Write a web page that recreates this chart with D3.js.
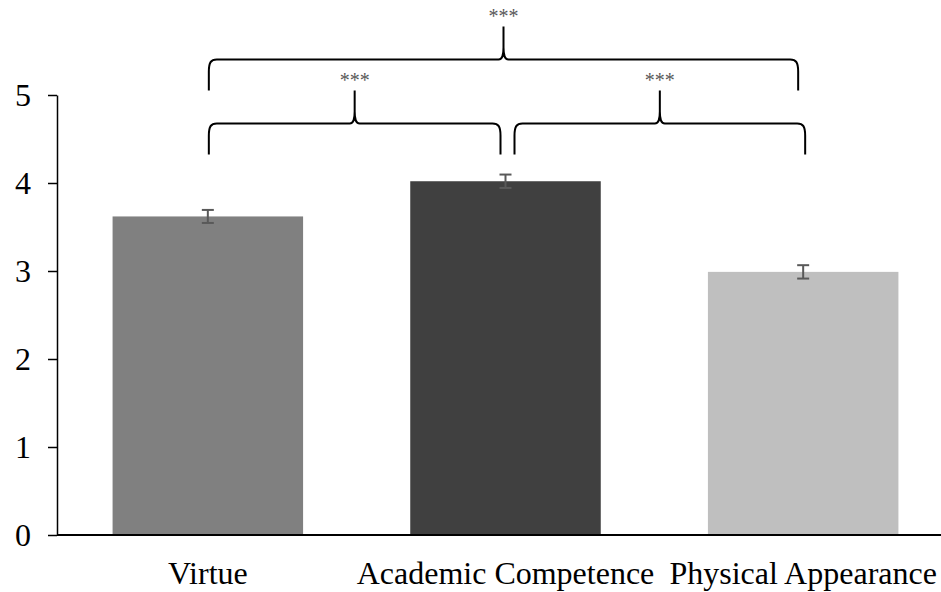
<!DOCTYPE html>
<html>
<head>
<meta charset="utf-8">
<script src="https://cdn.jsdelivr.net/npm/d3@7"></script>
<style>
  html, body { margin: 0; padding: 0; background: #fff; }
  svg { display: block; }
</style>
</head>
<body>
<svg id="chart" width="941" height="592"></svg>
<script>
// Mean ratings per domain, with standard errors
const categories = ["Virtue", "Academic Competence", "Physical Appearance"];
const means = [3.62, 4.02, 2.99];
const errors = [0.074, 0.076, 0.076];
const barColors = ["#808080", "#404040", "#bfbfbf"];
const yTicks = [0, 1, 2, 3, 4, 5];

// Pairwise comparisons (category indices), bracket level and significance label
const comparisons = [
  { from: 0, to: 1, level: 0, label: "***" },
  { from: 1, to: 2, level: 0, label: "***" },
  { from: 0, to: 2, level: 1, label: "***" }
];

const svg = d3.select("#chart");
const W = 941;
const axisX = 57;
const serif = "'Liberation Serif', 'Times New Roman', serif";

const x = d3.scaleBand()
  .domain(categories)
  .range([59, 952])
  .paddingInner(0.36)
  .paddingOuter(0.18);

const y = d3.scaleLinear().domain([0, 5]).range([535, 95]);

// Bars
svg.append("g").selectAll("rect")
  .data(categories)
  .join("rect")
  .attr("x", d => x(d))
  .attr("y", (d, i) => y(means[i]))
  .attr("width", x.bandwidth())
  .attr("height", (d, i) => y(0) - y(means[i]))
  .attr("fill", (d, i) => barColors[i]);

// Error bars
const eb = svg.append("g").attr("stroke", "#595959").attr("stroke-width", 2).attr("fill", "none");
categories.forEach((c, i) => {
  const cx = x(c) + x.bandwidth() / 2;
  const y1 = y(means[i] + errors[i]);
  const y2 = y(means[i] - errors[i]);
  eb.append("line").attr("x1", cx).attr("x2", cx).attr("y1", y1).attr("y2", y2);
  eb.append("line").attr("x1", cx - 6).attr("x2", cx + 6).attr("y1", y1).attr("y2", y1);
  eb.append("line").attr("x1", cx - 6).attr("x2", cx + 6).attr("y1", y2).attr("y2", y2);
});

// Y axis
const yAxis = d3.axisLeft(y)
  .tickValues(yTicks)
  .tickFormat(d3.format("d"))
  .tickSize(9)
  .tickSizeOuter(0)
  .tickPadding(17);
const gy = svg.append("g").attr("transform", `translate(${axisX},0)`).call(yAxis);
gy.select(".domain").attr("stroke", "#000").attr("stroke-width", 1.5);
gy.selectAll(".tick line").attr("stroke", "#000").attr("stroke-width", 1.5);
gy.selectAll(".tick text")
  .attr("font-family", serif)
  .attr("font-size", 32)
  .attr("fill", "#000")
  .attr("dy", "0.34em");

// X baseline
svg.append("line")
  .attr("x1", axisX).attr("x2", W)
  .attr("y1", y(0)).attr("y2", y(0))
  .attr("stroke", "#000").attr("stroke-width", 2);

// Category labels
svg.append("g").selectAll("text")
  .data(categories)
  .join("text")
  .attr("x", d => x(d) + x.bandwidth() / 2)
  .attr("y", 584)
  .attr("text-anchor", "middle")
  .attr("font-family", serif)
  .attr("font-size", 32)
  .attr("fill", "#000")
  .text(d => d);

// Curly brackets over compared pairs
const levelBase = [123.5, 59.5];   // y of the horizontal run for each level
const armDrop = 31;                 // how far the ends reach downward
const peakRise = 33;                // height of the central point
function bracketEnds(cmp) {
  const c1 = x(categories[cmp.from]) + x.bandwidth() / 2;
  const c2 = x(categories[cmp.to]) + x.bandwidth() / 2;
  if (cmp.level === 1) return [c1 + 1, c2 - 5];
  if (cmp.from === 0) return [c1 + 1, c2 - 5];
  return [c1 + 9, c2 + 2];
}
function bracePath(x1, x2, h) {
  const xm = (x1 + x2) / 2;
  const p = d3.path();
  p.moveTo(x1, h + armDrop);
  p.lineTo(x1, h + 12);
  p.bezierCurveTo(x1, h + 3, x1 + 2, h, x1 + 8, h);
  p.lineTo(xm - 5, h);
  p.bezierCurveTo(xm - 1, h, xm, h - 4, xm, h - 12);
  p.lineTo(xm, h - peakRise);
  p.moveTo(xm, h - 12);
  p.bezierCurveTo(xm, h - 4, xm + 1, h, xm + 5, h);
  p.lineTo(x2 - 8, h);
  p.bezierCurveTo(x2 - 2, h, x2, h + 3, x2, h + 12);
  p.lineTo(x2, h + armDrop);
  return p.toString();
}
const gb = svg.append("g");
comparisons.forEach(cmp => {
  const [x1, x2] = bracketEnds(cmp);
  const h = levelBase[cmp.level];
  gb.append("path")
    .attr("d", bracePath(x1, x2, h))
    .attr("fill", "none")
    .attr("stroke", "#000")
    .attr("stroke-width", 2);
  gb.append("text")
    .attr("x", (x1 + x2) / 2)
    .attr("y", h - peakRise - 4)
    .attr("text-anchor", "middle")
    .attr("font-family", serif)
    .attr("font-size", 20)
    .attr("fill", "#595959")
    .text(cmp.label);
});
</script>
</body>
</html>
